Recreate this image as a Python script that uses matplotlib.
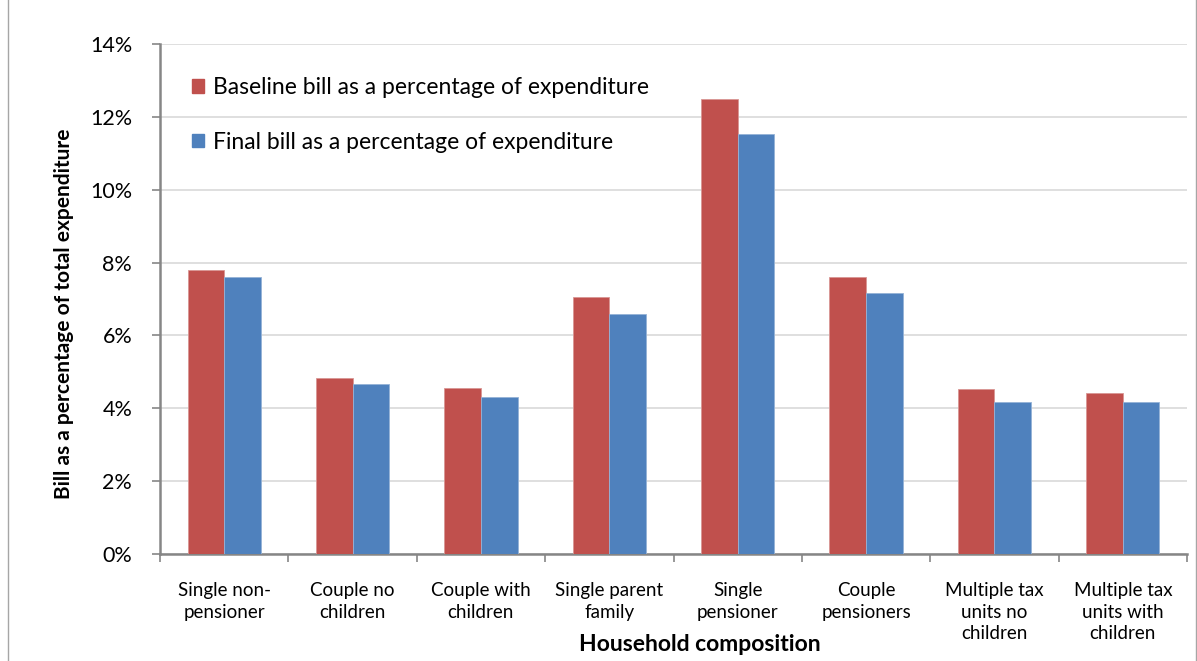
import numpy as np
import matplotlib.pyplot as plt
from matplotlib.patches import Patch, Rectangle

categories = ['Single non-\npensioner', 'Couple no\nchildren', 'Couple with\nchildren',
              'Single parent\nfamily', 'Single\npensioner', 'Couple\npensioners',
              'Multiple tax\nunits no\nchildren', 'Multiple tax\nunits with\nchildren']
baseline = [7.80, 4.83, 4.55, 7.05, 12.49, 7.60, 4.53, 4.42]
final = [7.60, 4.67, 4.32, 6.58, 11.54, 7.16, 4.18, 4.18]

red = '#C0504D'
blue = '#4F81BD'
axis_grey = '#868686'

plt.rcParams['font.family'] = ['Lato', 'DejaVu Sans']

fig = plt.figure(figsize=(11.97, 6.61), dpi=100)
ax = fig.add_axes([160 / 1197, 1 - 554 / 661, 1027 / 1197, 510 / 661])

x = np.arange(len(categories))
w = 0.285
ax.bar(x - w / 2, baseline, w, color=red, edgecolor='#D99694', linewidth=0.6, zorder=3)
ax.bar(x + w / 2, final, w, color=blue, edgecolor='#95B3D7', linewidth=0.6, zorder=3)

ax.set_xlim(-0.5, len(categories) - 0.5)
ax.set_ylim(0, 14)
ax.set_yticks(np.arange(0, 15, 2))
ax.set_yticklabels([f'{v}%' for v in range(0, 15, 2)], fontsize=15.5)
ax.yaxis.grid(True, color='#D9D9D9', linewidth=1.2, zorder=0)
ax.set_axisbelow(True)

# category boundaries as major ticks, labels on minor ticks
ax.set_xticks(np.arange(-0.5, len(categories), 1))
ax.set_xticklabels([])
ax.set_xticks(x, minor=True)
ax.set_xticklabels(categories, minor=True, fontsize=13.5, linespacing=1.34, va='top')
ax.tick_params(axis='x', which='minor', length=0, pad=20)
ax.tick_params(axis='x', which='major', length=6, width=1.2, color=axis_grey)
ax.tick_params(axis='y', length=6, width=1.2, color=axis_grey, pad=14)

for s in ['top', 'right']:
    ax.spines[s].set_visible(False)
for s in ['left', 'bottom']:
    ax.spines[s].set_color(axis_grey)
    ax.spines[s].set_linewidth(1.8)

ax.set_ylabel('Bill as a percentage of total expenditure', fontsize=15, fontweight='bold')
ax.yaxis.set_label_coords(-0.084, 0.4716)
ax.set_xlabel('Household composition', fontsize=16.5, fontweight='bold')
ax.xaxis.set_label_coords(0.526, -0.157)

handles = [Patch(color=red), Patch(color=blue)]
labels = ['Baseline bill as a percentage of expenditure', 'Final bill as a percentage of expenditure']
ax.legend(handles, labels, loc='upper left', bbox_to_anchor=(32 / 1027, 477 / 510), frameon=False,
          fontsize=16.5, handlelength=0.52, handleheight=0.52, handletextpad=0.4,
          labelspacing=1.48, borderpad=0, borderaxespad=0)

fig.patches.append(Rectangle((8 / 1197, -0.01), 1188 / 1197, 1.02, transform=fig.transFigure,
                             fill=False, edgecolor='#A6A6A6', linewidth=1))

fig.savefig('out.png', dpi=100)
